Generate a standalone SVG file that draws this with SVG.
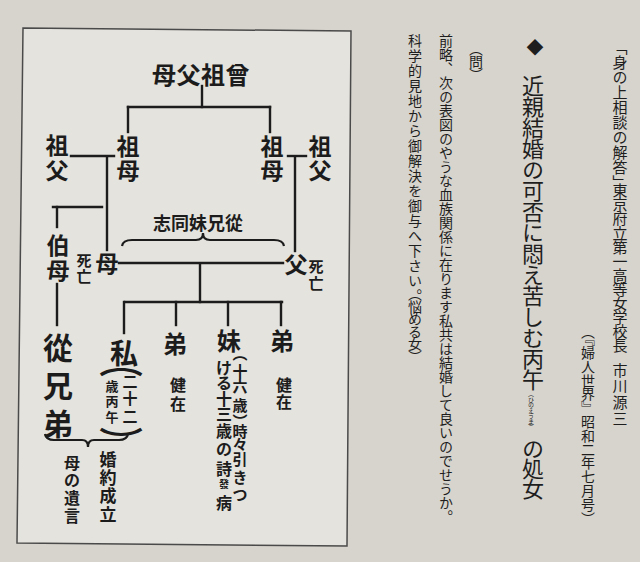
<svg xmlns="http://www.w3.org/2000/svg" width="640" height="562" viewBox="0 0 640 562">
<style>
.d{font-family:"Noto Sans CJK JP","Noto Sans CJK SC",sans-serif;font-weight:700;fill:#1c1c1c;text-anchor:middle;dominant-baseline:central}
.v{font-family:"Noto Sans CJK JP","Noto Sans CJK SC",sans-serif;font-weight:400;fill:#1e1e1e;writing-mode:vertical-rl}
.ln{stroke:#1c1c1c;stroke-width:2.4;fill:none;stroke-linecap:square}
.br{stroke:#1c1c1c;stroke-width:2.2;fill:none}
</style>
<rect x="0" y="0" width="640" height="562" fill="#d7d4cd"/>
<polygon points="23,28 351,31 347,546 17,543" fill="#e5e3dd" stroke="#4a4a4a" stroke-width="1.5"/>

<g id="connectors">
<line class="ln" x1="202" y1="86" x2="202" y2="107"/>
<line class="ln" x1="128" y1="107" x2="270" y2="107"/>
<line class="ln" x1="128" y1="107" x2="128" y2="132"/>
<line class="ln" x1="270" y1="107" x2="270" y2="132"/>
<line class="ln" x1="71" y1="156" x2="114" y2="156"/>
<line class="ln" x1="107" y1="158" x2="107" y2="250"/>
<line class="ln" x1="288" y1="156" x2="306" y2="156"/>
<line class="ln" x1="295" y1="158" x2="295" y2="251"/>
<line class="ln" x1="53" y1="207" x2="102" y2="207"/>
<line class="ln" x1="57" y1="207" x2="57" y2="227"/>
<line class="ln" x1="57" y1="284" x2="57" y2="325"/>
<line class="ln" x1="119" y1="263" x2="283" y2="263"/>
<line class="ln" x1="200" y1="264" x2="200" y2="302"/>
<line class="ln" x1="125" y1="302" x2="282" y2="302"/>
<line class="ln" x1="124" y1="302" x2="124" y2="333"/>
<line class="ln" x1="176" y1="302" x2="176" y2="325"/>
<line class="ln" x1="228" y1="302" x2="228" y2="325"/>
<line class="ln" x1="281" y1="302" x2="281" y2="325"/>
<path class="br" d="M122,246 Q123,240 132,240 L196,240 Q203,240 203,233 Q203,240 210,240 L274,240 Q283,240 284,246"/>
<path class="br" d="M45,434 Q46,440 54,440 L82,440 Q88,440 88,447 Q88,440 94,440 L119,440 Q127,440 128,434"/>
</g>

<g id="great-grandparents"><text class="d" x="201" y="73" font-size="24" letter-spacing="0.5">母父祖曾</text></g>
<g id="grandfather-left"><text class="d" font-size="23"><tspan x="57" y="144">祖</tspan><tspan x="57" y="169">父</tspan></text></g>
<g id="grandmother-left"><text class="d" font-size="23"><tspan x="128" y="145">祖</tspan><tspan x="128" y="169">母</tspan></text></g>
<g id="grandmother-right"><text class="d" font-size="23"><tspan x="272" y="145">祖</tspan><tspan x="272" y="169">母</tspan></text></g>
<g id="grandfather-right"><text class="d" font-size="23"><tspan x="320" y="145">祖</tspan><tspan x="320" y="169">父</tspan></text></g>
<g id="aunt"><text class="d" font-size="23"><tspan x="58" y="244">伯</tspan><tspan x="58" y="269">母</tspan></text></g>
<g id="mother"><text class="d" font-size="23" x="107" y="262">母</text><text class="d" font-size="15"><tspan x="84" y="259">死</tspan><tspan x="84" y="275">亡</tspan></text></g>
<g id="father"><text class="d" font-size="23" x="296" y="263">父</text><text class="d" font-size="15"><tspan x="316" y="265">死</tspan><tspan x="316" y="282">亡</tspan></text></g>
<g id="cousins-label"><text class="d" x="198" y="222" font-size="18">志同妹兄從</text></g>
<g id="cousin"><text class="d" font-size="30"><tspan x="58" y="346">從</tspan><tspan x="58" y="384">兄</tspan><tspan x="58" y="422">弟</tspan></text></g>
<g id="me"><text class="d" font-size="28" x="124" y="352">私</text>
<g transform="translate(121 0) scale(1.7 1)"><text class="d" font-size="26"><tspan x="0" y="363">︵</tspan><tspan x="0" y="439">︶</tspan></text></g>
<text class="d" font-size="15"><tspan x="130" y="380">二</tspan><tspan x="130" y="397">十</tspan><tspan x="130" y="415">二</tspan></text>
<text class="d" font-size="13"><tspan x="112" y="385">歳</tspan><tspan x="112" y="400">丙</tspan><tspan x="112" y="416">午</tspan></text></g>
<g id="brother-1"><text class="d" font-size="24" x="175" y="342">弟</text><text class="d" font-size="16"><tspan x="178" y="384">健</tspan><tspan x="178" y="403">在</tspan></text></g>
<g id="sister"><text class="d" font-size="24" x="229" y="339">妹</text>
<text class="d" font-size="15"><tspan x="240" y="352">︵</tspan><tspan x="240" y="370">十</tspan><tspan x="240" y="385">六</tspan><tspan x="240" y="404">歳</tspan><tspan x="240" y="420">︶</tspan><tspan x="240" y="430">時</tspan><tspan x="240" y="443">々</tspan><tspan x="240" y="458">引</tspan><tspan x="240" y="476">き</tspan><tspan x="240" y="493">つ</tspan></text>
<text class="d" font-size="16"><tspan x="224" y="367">け</tspan><tspan x="224" y="382">る</tspan><tspan x="224" y="398">十</tspan><tspan x="224" y="413">三</tspan><tspan x="224" y="430">歳</tspan><tspan x="224" y="448">の</tspan><tspan x="224" y="468">詩</tspan><tspan x="224" y="483" font-size="10">發</tspan><tspan x="224" y="502">病</tspan></text></g>
<g id="brother-2"><text class="d" font-size="24" x="282" y="339">弟</text><text class="d" font-size="16"><tspan x="284" y="384">健</tspan><tspan x="284" y="401">在</tspan></text></g>
<g id="engagement"><text class="d" font-size="17"><tspan x="108" y="458">婚</tspan><tspan x="108" y="476">約</tspan><tspan x="108" y="494">成</tspan><tspan x="108" y="513">立</tspan></text></g>
<g id="mothers-will"><text class="d" font-size="16"><tspan x="72" y="462">母</tspan><tspan x="72" y="479">の</tspan><tspan x="72" y="497">遺</tspan><tspan x="72" y="515">言</tspan></text></g>

<g id="article">
<text class="v" x="620" y="40" font-size="15">「身の上相談の解答」</text>
<text class="v" x="620" y="183" font-size="15" letter-spacing="-0.9">東京府立第一高等女学校長</text>
<text class="v" x="620" y="363" font-size="15" letter-spacing="1">市川源三</text>
<text class="v" x="588" y="325" font-size="14" letter-spacing="-0.2">（『婦人世界』昭和二年七月号）</text>
<text class="v" x="535" y="39" font-size="17">◆</text>
<text class="v" x="533" y="75" font-size="22" letter-spacing="-1">近親結婚の可否に悶え苦しむ丙午</text>
<text class="v" x="531" y="391" font-size="6" letter-spacing="-0.5">（ひのえうま）</text>
<text class="v" x="533" y="438" font-size="22" letter-spacing="-2">の処女</text>
<text class="v" x="476" y="42" font-size="14" letter-spacing="-1">（問）</text>
<text class="v" x="446" y="34" font-size="14">前略、次の表図のやうな血族関係に在ります私共は結婚して良いのでせうか。</text>
<text class="v" x="415" y="34" font-size="14" letter-spacing="1">科学的見地から御解決を御与へ下さい。</text>
<text class="v" x="415" y="287" font-size="14" letter-spacing="-1.5">（悩める女）</text>
</g>
</svg>
